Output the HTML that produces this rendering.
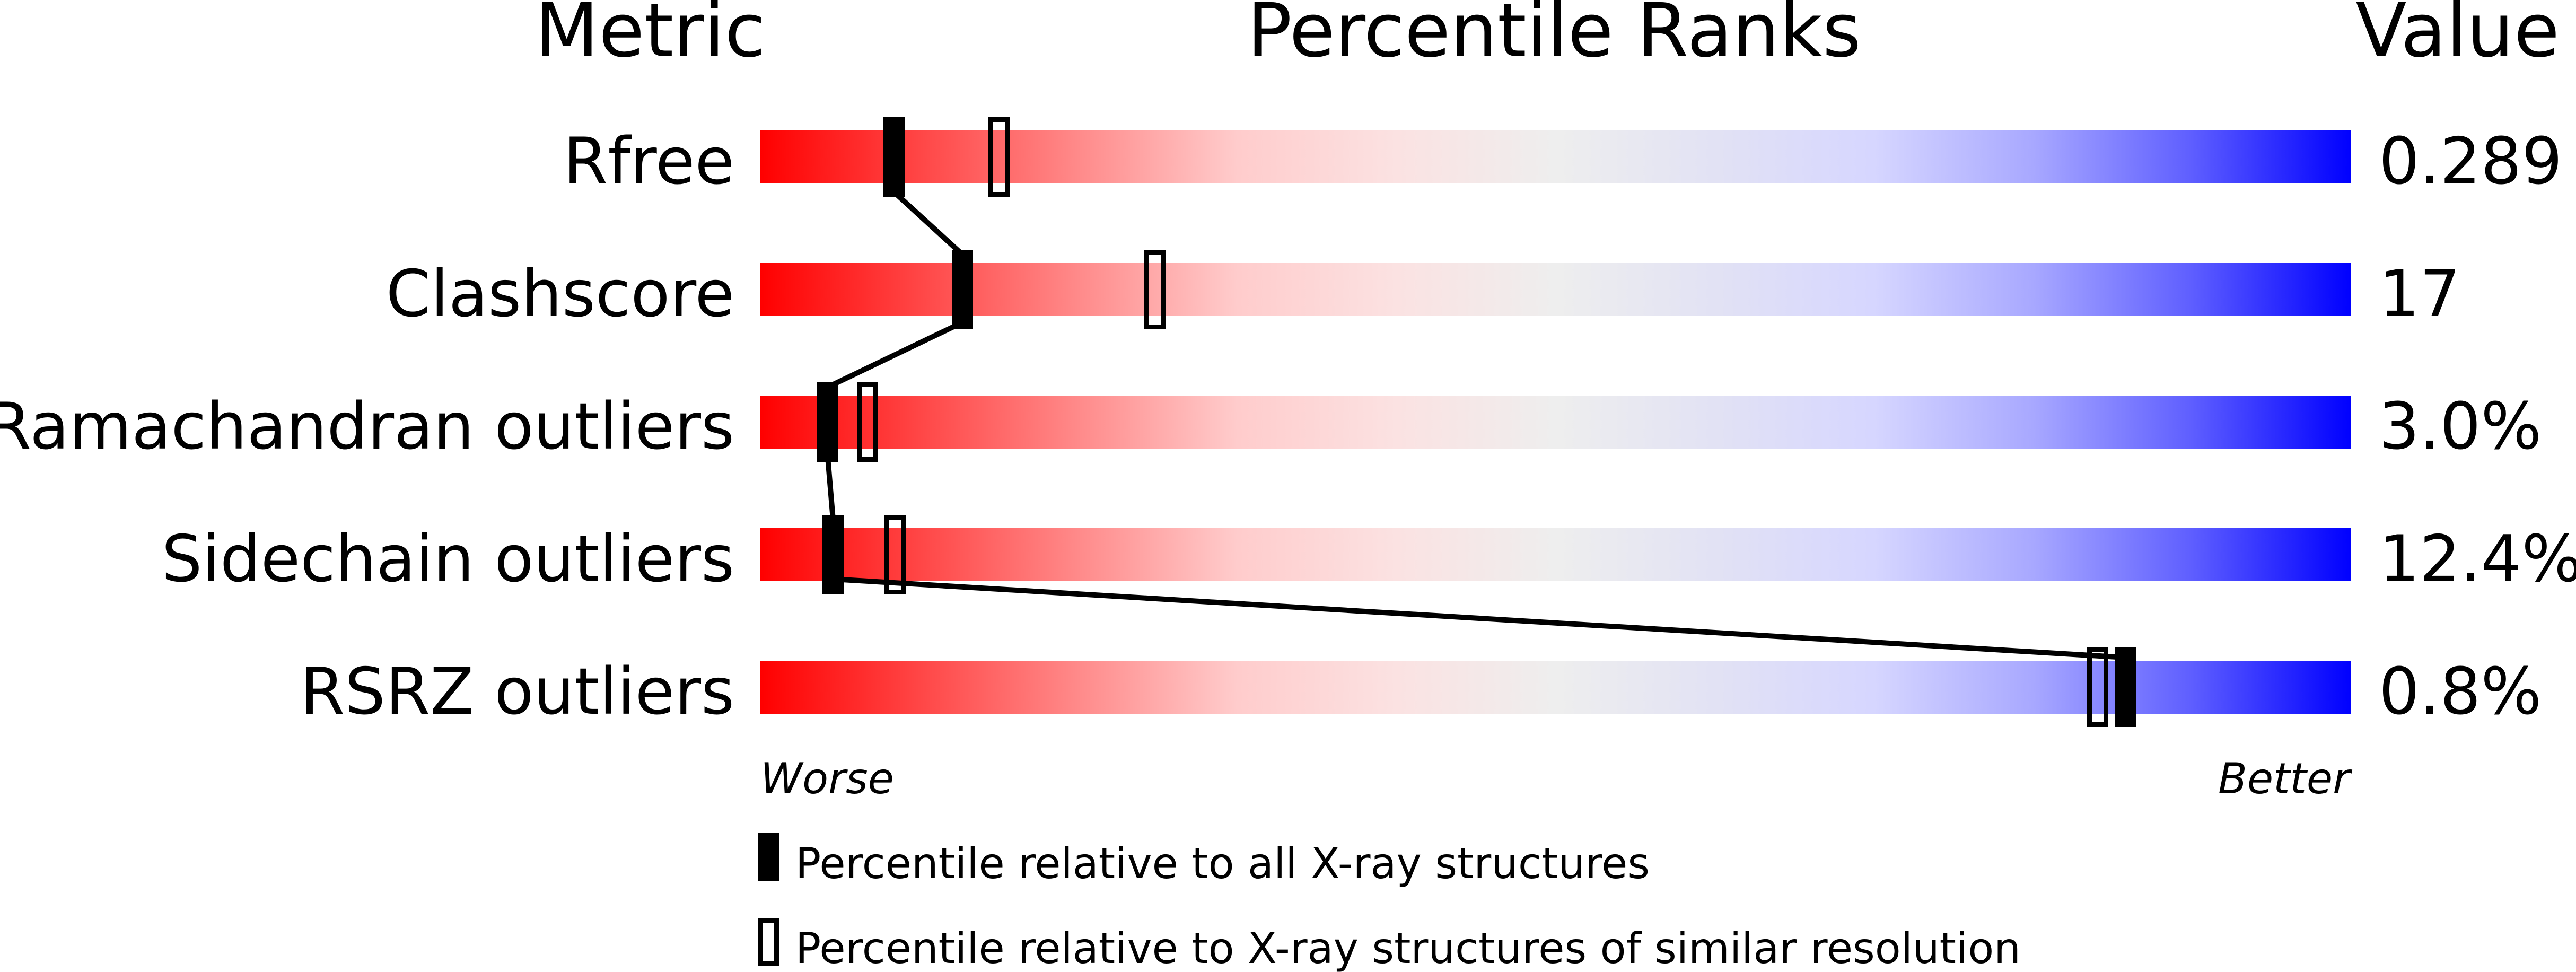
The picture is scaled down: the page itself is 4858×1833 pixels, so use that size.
<!DOCTYPE html>
<html><head><meta charset="utf-8"><style>
html,body{margin:0;padding:0;background:#fff;}
svg{display:block;}
text{font-family:"DejaVu Sans","Liberation Sans",sans-serif;fill:#000;}
</style></head><body>
<svg width="4858" height="1833" viewBox="0 0 4858 1833" xmlns="http://www.w3.org/2000/svg">
<defs>
<linearGradient id="g" x1="0" x2="1" y1="0" y2="0">
<stop offset="0" stop-color="#ff0000"/>
<stop offset="0.1" stop-color="#ff4646"/>
<stop offset="0.2" stop-color="#ff8a8a"/>
<stop offset="0.3" stop-color="#ffcccc"/>
<stop offset="0.4" stop-color="#fbe2e2"/>
<stop offset="0.5" stop-color="#eeeeee"/>
<stop offset="0.6" stop-color="#e2e2f4"/>
<stop offset="0.7" stop-color="#d6d6ff"/>
<stop offset="0.8" stop-color="#a8a8ff"/>
<stop offset="0.9" stop-color="#5e5eff"/>
<stop offset="1" stop-color="#0000ff"/>
</linearGradient>
</defs>
<text x="1226" y="106" font-size="140" text-anchor="middle">Metric</text>
<text x="2931" y="106" font-size="140" text-anchor="middle">Percentile Ranks</text>
<text x="4827" y="106" font-size="140" text-anchor="end">Value</text>

<g font-size="121">
<rect x="1434" y="246" width="3000" height="100" fill="url(#g)"/>
<text x="1385" y="346" text-anchor="end">Rfree</text>
<text x="4486" y="346">0.289</text>
<rect x="1434" y="496" width="3000" height="100" fill="url(#g)"/>
<text x="1385" y="596" text-anchor="end">Clashscore</text>
<text x="4486" y="596">17</text>
<rect x="1434" y="746" width="3000" height="100" fill="url(#g)"/>
<text x="1385" y="846" text-anchor="end">Ramachandran outliers</text>
<text x="4486" y="846">3.0%</text>
<rect x="1434" y="996" width="3000" height="100" fill="url(#g)"/>
<text x="1385" y="1096" text-anchor="end">Sidechain outliers</text>
<text x="4486" y="1096">12.4%</text>
<rect x="1434" y="1246" width="3000" height="100" fill="url(#g)"/>
<text x="1385" y="1346" text-anchor="end">RSRZ outliers</text>
<text x="4486" y="1346">0.8%</text>
</g>

<polyline points="1686,362 1815,480 1815,608 1561,730 1561,862 1571,980 1571,1092 4009,1240" fill="none" stroke="#000" stroke-width="10"/>

<g fill="#000">
<rect x="1666" y="221" width="40" height="150"/>
<rect x="1795" y="471" width="40" height="150"/>
<rect x="1541" y="721" width="40" height="150"/>
<rect x="1551" y="971" width="40" height="150"/>
<rect x="3989" y="1221" width="40" height="150"/>
</g>
<g fill="none" stroke="#000" stroke-width="9">
<rect x="1868.5" y="225.5" width="31" height="141"/>
<rect x="2162.5" y="475.5" width="31" height="141"/>
<rect x="1620.5" y="725.5" width="31" height="141"/>
<rect x="1672.5" y="975.5" width="31" height="141"/>
<rect x="3940.5" y="1225.5" width="31" height="141"/>
</g>

<text x="1434" y="1496" font-size="80" font-style="italic">Worse</text>
<text x="4432" y="1496" font-size="80" font-style="italic" text-anchor="end">Better</text>

<rect x="1429" y="1571" width="40" height="90" fill="#000"/>
<text x="1500" y="1656" font-size="80">Percentile relative to all X-ray structures</text>
<rect x="1433.5" y="1735.5" width="31" height="81" fill="none" stroke="#000" stroke-width="9"/>
<text x="1500" y="1816" font-size="80">Percentile relative to X-ray structures of similar resolution</text>
</svg>
</body></html>
